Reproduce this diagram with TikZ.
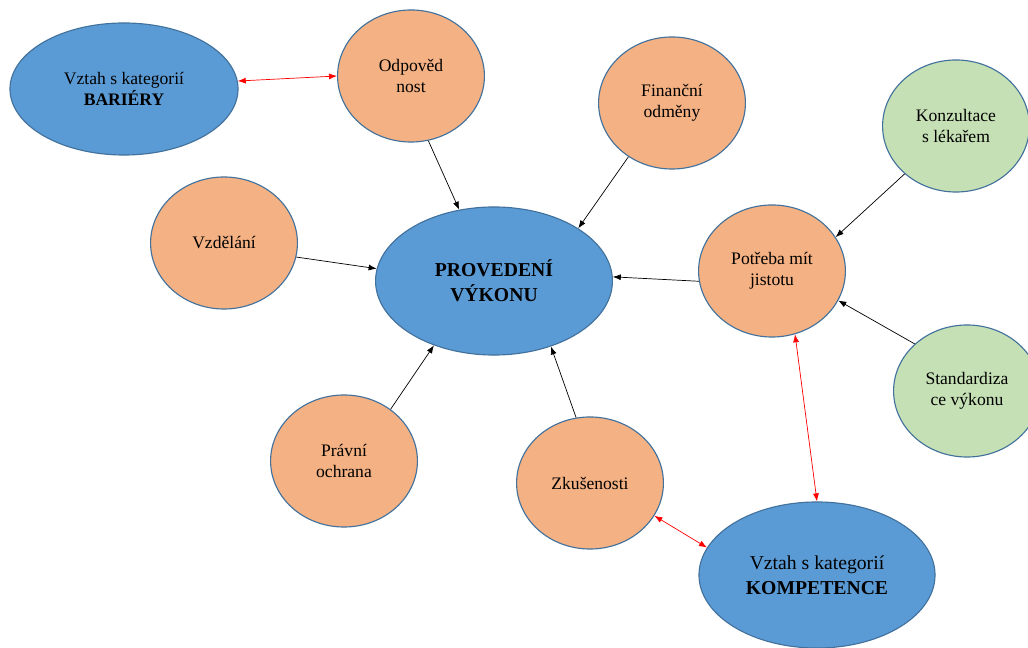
\documentclass[tikz,border=0pt]{standalone}
\usepackage{fontspec}
\setmainfont{Liberation Serif}
\usetikzlibrary{shapes,arrows.meta,positioning,calc}

\definecolor{rimblue}{HTML}{41719C}
\definecolor{catblue}{HTML}{5B9BD5}
\definecolor{factororange}{HTML}{F4B183}
\definecolor{supportgreen}{HTML}{C5E0B4}

\begin{document}
\begin{tikzpicture}[x=0.025cm, y=-0.025cm]

% Define styles
\tikzstyle{factor} = [ellipse, minimum width=3.67cm, minimum height=3.3cm, inner sep=0pt, align=center, draw=rimblue, fill=factororange, line width=0.8pt, font=\fontsize{12.5}{15}\selectfont]
\tikzstyle{support} = [factor, fill=supportgreen]
\tikzstyle{category} = [ellipse, minimum width=5.9cm, minimum height=3.65cm, inner sep=0pt, align=center, draw=rimblue, fill=catblue, line width=0.8pt, font=\fontsize{14}{17.5}\selectfont]
\tikzstyle{arrow} = [line width=0.5pt, -{Latex[length=2mm, width=1.5mm]}]
\tikzstyle{link} = [line width=0.5pt, color=red, {Latex[length=2mm, width=1.5mm]}-{Latex[length=2mm, width=1.5mm]}]

\useasboundingbox (0,0) rectangle (1028,648);
\clip (0,0) rectangle (1028,648);

% Central node
\node (vykon) [category, minimum width=5.92cm, minimum height=3.7cm] at (494,281) {\textbf{PROVEDENÍ}\\\textbf{VÝKONU}};

% Categories
\node (bariery) [category, minimum width=5.7cm, minimum height=3.3cm, font=\fontsize{12.5}{15}\selectfont] at (124,89) {Vztah s kategorií\\\textbf{BARIÉRY}};
\node (kompetence) [category] at (817,575) {Vztah s kategorií\\\textbf{KOMPETENCE}};

% Factors
\node (odpovednost) [factor] at (411,76) {Odpověd\\nost};
\node (financni) [factor] at (672,103) {Finanční\\odměny};
\node (vzdelani) [factor] at (224,243) {Vzdělání};
\node (jistota) [factor] at (772,271) {Potřeba mít\\jistotu};
\node (ochrana) [factor] at (344,461) {Právní\\ochrana};
\node (zkusenosti) [factor] at (590,483) {Zkušenosti};

% Supporting nodes
\node (konzultace) [support] at (956,126) {Konzultace\\s lékařem};
\node (standard) [support] at (967,391) {Standardiza\\ce výkonu};

% Arrows to the centre
\draw [arrow] (odpovednost.-75) -- (vykon.116);
\draw [arrow] (financni.231) -- (vykon.32);
\draw [arrow] (vzdelani.-11) -- (vykon.174);
\draw [arrow] (jistota.188) -- (vykon.2);
\draw [arrow] (ochrana.48) -- (vykon.-133);
\draw [arrow] (zkusenosti.102) -- (vykon.-49);

% Arrows to Potreba
\draw [arrow] (konzultace.223) -- (jistota.28);
\draw [arrow] (standard.138) -- (jistota.-24);

% Links to categories
\draw [link] (bariery.4) -- (odpovednost.180);
\draw [link] (jistota.-70) -- (kompetence.90);
\draw [link] (zkusenosti.-27) -- (kompetence.166);

\end{tikzpicture}
\end{document}
